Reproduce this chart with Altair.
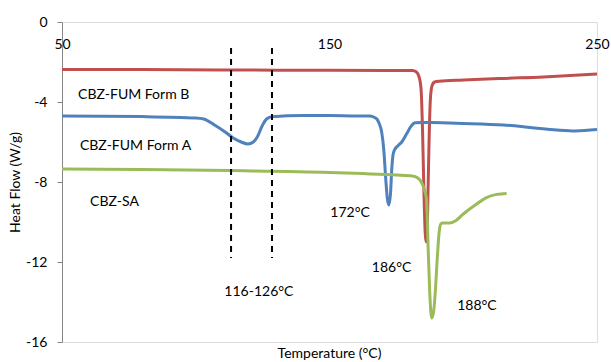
import altair as alt
import pandas as pd

# ---- data ----
form_b_t = [50, 80, 110, 140, 170, 181.0, 182.5, 183.5, 184.2, 184.8, 185.3, 185.8, 186.1,
            186.5, 186.9, 187.3, 187.7, 188.3, 189.3, 191, 200, 215, 230, 240, 250]
form_b_v = [-2.37, -2.38, -2.40, -2.41, -2.42, -2.43, -2.5, -2.75, -3.3, -5.5, -8.5, -10.6, -11.0,
            -10.5, -8.0, -5.5, -3.9, -3.2, -3.0, -2.96, -2.9, -2.82, -2.75, -2.68, -2.6]

form_a_t = [50, 80, 100, 103, 107, 111, 114, 117, 119.5, 121.5, 123, 124.8, 126.5, 128.5,
            140, 150, 160, 165, 166.5, 167.7, 168.5, 169.5, 170.3, 171, 171.6, 172.2, 172.8,
            173.3, 173.8, 174.5, 175.5, 177, 178.8, 180.7, 182, 185, 188, 200, 215, 225,
            235, 242, 250]
form_a_v = [-4.70, -4.73, -4.80, -4.85, -5.15, -5.5, -5.8, -6.0, -6.1, -6.0, -5.75, -5.2, -4.85, -4.74,
            -4.68, -4.68, -4.70, -4.70, -4.75, -4.85, -5.05, -5.5, -6.4, -7.8, -8.8, -9.15, -8.6,
            -7.3, -6.6, -6.35, -6.2, -6.0, -5.6, -5.17, -5.04, -5.02, -5.03, -5.07, -5.15, -5.27,
            -5.4, -5.45, -5.38]

sa_t = [50, 80, 113, 150, 162.5, 175, 181, 183, 184.3, 185.5, 186.3, 186.9, 187.5, 188.2,
        188.9, 189.5, 190.2, 191, 191.6, 192.3, 195, 197, 200, 205, 208.7, 212.5, 216.2]
sa_v = [-7.35, -7.38, -7.43, -7.52, -7.58, -7.65, -7.7, -7.8, -8.0, -8.4, -8.9, -11.4, -13.6, -14.8,
        -14.5, -13.6, -12.0, -10.5, -10.1, -10.05, -10.05, -9.95, -9.6, -9.1, -8.78, -8.62, -8.57]

series_names = ["CBZ-FUM Form B", "CBZ-FUM Form A", "CBZ-SA"]
series_colors = ["#C0504D", "#4F81BD", "#9BBB59"]

dash_x = [113.2, 128.5]
dash_top = -1.3
dash_bottom = -11.8

left_labels = ["CBZ-FUM Form B", "CBZ-FUM Form A", "CBZ-SA"]
left_x = [56.0, 56.7, 60.5]
left_y = [-3.65, -6.2, -9.0]

center_labels = ["172°C", "186°C", "188°C", "116-126°C"]
center_x = [157.7, 173.2, 205.1, 123.6]
center_y = [-9.55, -12.3, -14.2, -13.5]

x_ticks = [50, 150, 250]
y_ticks = [0, -4, -8, -12, -16]

FONT = "Lato"

rows = []
for name, ts, vs in zip(series_names, [form_b_t, form_a_t, sa_t], [form_b_v, form_a_v, sa_v]):
    for i, (t, v) in enumerate(zip(ts, vs)):
        rows.append({"series": name, "temp": t, "flow": v, "order": i})
df = pd.DataFrame(rows)

xscale = alt.Scale(domain=[50, 250], nice=False, zero=False)
yscale = alt.Scale(domain=[-16, 0], nice=False, zero=False)

xaxis = alt.Axis(values=x_ticks, orient="bottom", offset=-320, ticks=False, grid=False,
                 domain=False, labelPadding=15, labelFlush=False, labelFontSize=14,
                 labelFont=FONT, labelColor="#000000", title=None)
yaxis = alt.Axis(values=y_ticks, grid=False, domainColor="#868686", tickColor="#868686",
                 tickSize=5, labelPadding=10, labelFontSize=14, labelFont=FONT,
                 labelColor="#000000", labelExpr="'' + datum.value",
                 title="Heat Flow (W/g)", titleFont=FONT, titleFontSize=14,
                 titleFontWeight="normal", titleColor="#000000", titlePadding=3)

lines = alt.Chart(df).mark_line(strokeWidth=3, interpolate="monotone").encode(
    x=alt.X("temp:Q", scale=xscale, axis=xaxis),
    y=alt.Y("flow:Q", scale=yscale, axis=yaxis),
    color=alt.Color("series:N", scale=alt.Scale(domain=series_names, range=series_colors), legend=None),
    order="order:Q",
)

dash_df = pd.DataFrame({"x": dash_x, "top": [dash_top] * len(dash_x), "bottom": [dash_bottom] * len(dash_x)})
dashes = alt.Chart(dash_df).mark_rule(color="#000000", strokeWidth=2, strokeDash=[6, 5]).encode(
    x=alt.X("x:Q", scale=xscale),
    y=alt.Y("top:Q", scale=yscale),
    y2="bottom:Q",
)

left_df = pd.DataFrame({"label": left_labels, "x": left_x, "y": left_y})
left_text = alt.Chart(left_df).mark_text(align="left", baseline="middle", font=FONT,
                                         fontSize=14, color="#000000").encode(
    x=alt.X("x:Q", scale=xscale), y=alt.Y("y:Q", scale=yscale), text="label:N")

center_df = pd.DataFrame({"label": center_labels, "x": center_x, "y": center_y})
center_text = alt.Chart(center_df).mark_text(align="center", baseline="middle", font=FONT,
                                             fontSize=14, color="#000000").encode(
    x=alt.X("x:Q", scale=xscale), y=alt.Y("y:Q", scale=yscale), text="label:N")

chart = alt.layer(lines, dashes, left_text, center_text).properties(
    width=535, height=320,
    title=alt.TitleParams("Temperature (°C)", orient="bottom", frame="group", anchor="middle",
                          font=FONT, fontSize=14, fontWeight="normal", color="#000000", offset=-2),
    autosize=alt.AutoSizeParams(type="none"),
    padding={"left": 62, "top": 22, "right": 14, "bottom": 20},
).configure_view(stroke="#868686", strokeWidth=1).configure(background="#ffffff")

chart.save("out.html", embed_options={"renderer": "svg", "actions": False})
